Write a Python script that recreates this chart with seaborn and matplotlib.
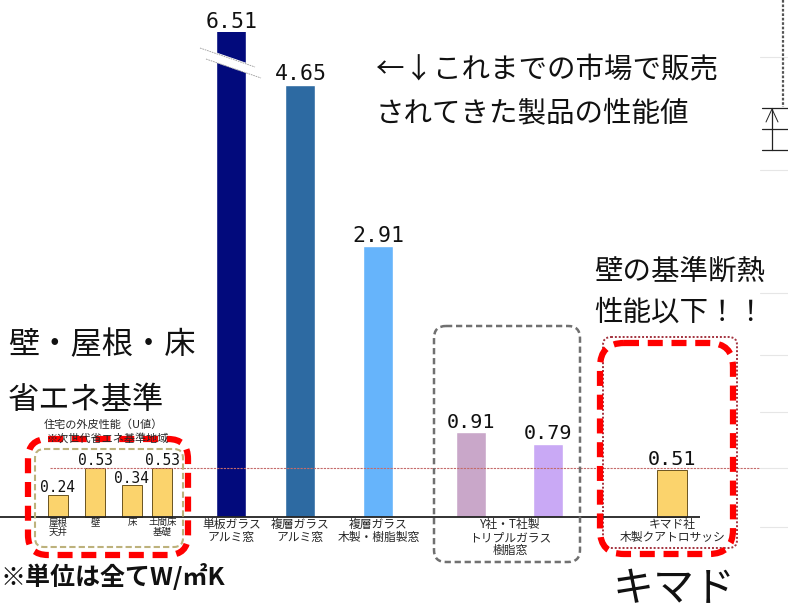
import matplotlib
matplotlib.use("Agg")
import matplotlib.pyplot as plt
import seaborn as sns
from matplotlib.patches import FancyBboxPatch, Rectangle

# data: U-values (W/m2K)
std_labels = ["屋根\n天井", "壁", "床", "土間床\n基礎"]
std_values = [0.24, 0.53, 0.34, 0.53]

win_labels = ["単板ガラス\nアルミ窓", "複層ガラス\nアルミ窓", "複層ガラス\n木製・樹脂製窓",
              "Y社・T社製\nトリプルガラス\n樹脂窓", "Y社・T社製2", "キマド社\n木製クアトロサッシ"]
win_values = [6.51, 4.65, 2.91, 0.91, 0.79, 0.51]
win_colors = ["#020a7c", "#2d6aa2", "#66b4fb", "#c9a7c9", "#c9a9f5", "#fbd36c"]

wall_standard = 0.53

# layout (pixel x positions of bar centres)
std_x = [58, 95.5, 132, 162.5]
win_x = [231.5, 300.5, 378.5, 471, 548.5, 672.5]
cap = 5.215  # broken-bar display limit

sns.set_style("white")
plt.rcParams["font.family"] = ["Noto Sans CJK JP", "DejaVu Sans"]

fig = plt.figure(figsize=(7.88, 6.13), dpi=100)
ax = fig.add_axes([0, 0, 1, 1])
ov = fig.add_axes([0, 0, 1, 1], zorder=3)
ov.patch.set_alpha(0)

# bars
sns.barplot(x=std_x, y=std_values, native_scale=True, width=20 / 30.5,
            color="#fbd36c", saturation=1, edgecolor="#6b5420", linewidth=0.7, ax=ax)
sns.barplot(x=win_x, y=win_values, hue=win_x, native_scale=True, width=30 / 69,
            palette=win_colors, saturation=1, dodge=False, legend=False, ax=ax)
for p in ax.patches:
    p.set_clip_path(Rectangle((0, -2), 788, 2 + cap, transform=ax.transData))
ax.patches[-1].set_edgecolor("#6b5420")
ax.patches[-1].set_linewidth(0.7)

ax.set_xlim(0, 788)
ax.set_ylim(-1.032, 5.559)
ax.axis("off")

ax.hlines(0, 0, 700, color="#222222", lw=1.3, zorder=4)
ax.hlines(wall_standard, 50, 760, color="#c46a6a", lw=0.8, ls=(0, (2, 1)), zorder=1)

mono = "DejaVu Sans Mono"
for x, v in zip(std_x, std_values):
    ax.annotate(f"{v:.2f}", (x, v), xytext=(0, 2), textcoords="offset points",
                ha="center", va="baseline", fontsize=10.5, family=mono, color="#111111")
for i, (x, v) in enumerate(zip(win_x, win_values)):
    ax.annotate(f"{v:.2f}", (x, min(v, cap)), xytext=(0, 3), textcoords="offset points",
                ha="center", va="baseline", fontsize=15.5 if i < 3 else 14.5,
                family=mono, color="#111111")

for x, lab in zip(std_x, std_labels):
    ax.annotate(lab, (x, 0), xytext=(0, -1), textcoords="offset points",
                ha="center", va="top", fontsize=6.8, linespacing=1.0)
for i, (x, lab) in enumerate(zip(win_x, win_labels)):
    if i == 4:
        continue
    xc = (win_x[3] + win_x[4]) / 2 if i == 3 else x
    ax.annotate(lab, (xc, 0), xytext=(0, -1), textcoords="offset points",
                ha="center", va="top", fontsize=8.5, linespacing=1.0)

# overlay in pixel coordinates
ov.set_xlim(0, 788)
ov.set_ylim(613, 0)
ov.axis("off")

# break mark on the first bar
ov.plot([203, 258], [53, 72], color="white", lw=7, solid_capstyle="butt")
ov.plot([200, 255], [48, 67], color="#9a9a9a", lw=0.6, ls=(0, (2, 1)))
ov.plot([206, 261], [59, 78], color="#9a9a9a", lw=0.6, ls=(0, (2, 1)))


def box(x0, y0, x1, y1, r, **kw):
    ov.add_patch(FancyBboxPatch((x0 + r, y0 + r), x1 - x0 - 2 * r, y1 - y0 - 2 * r,
                                boxstyle=f"round,pad={r},rounding_size={r}",
                                fill=False, **kw))


ov.text(103, 425, "住宅の外皮性能（U値）", ha="center", va="center", fontsize=8)
ov.text(108, 438, "※次世代省エネ基準地域", ha="center", va="center", fontsize=8)

box(35, 449, 183, 547, 9, ec="#bdb27c", lw=1.5, ls=(0, (3, 1.5)))
box(28, 439, 188, 555, 20, ec="#ff0000", lw=4.5, ls=(0, (2.4, 1.4)))
box(434, 326, 580, 562, 12, ec="#707070", lw=1.8, ls=(0, (2.5, 1.5)))
box(603, 337, 737, 548, 8, ec="#a3323e", lw=1.4, ls=(0, (1, 1)))
box(600, 343, 733, 554, 24, ec="#ff0000", lw=4.5, ls=(0, (2.4, 1.4)))

big = dict(fontsize=20.5, va="center", ha="left", color="#111111")
ov.text(376, 70, "←↓これまでの市場で販売", **big)
ov.text(376, 113, "されてきた製品の性能値", **big)
ov.text(594, 272, "壁の基準断熱", **big)
ov.text(594, 313, "性能以下！！", **big)
ov.text(8, 345, "壁・屋根・床", fontsize=22.5, va="center", ha="left", color="#111111")
ov.text(8, 400, "省エネ基準", fontsize=22.5, va="center", ha="left", color="#111111")
ov.text(1, 577, "※単位は全てW/㎡K", fontsize=18, fontweight="bold",
        va="center", ha="left", color="#111111")
ov.text(613, 590, "キマド", fontsize=29.5, va="center", ha="left", color="#111111")

# slide remnants at the right edge
for y in [57, 170, 293, 355, 412, 468, 527]:
    ov.plot([760, 788], [y, y], color="#e6e6e6", lw=0.8)
for y in [108, 129, 150]:
    ov.plot([762, 788], [y, y], color="#222222", lw=0.9)
ov.plot([772, 772], [108, 150], color="#222222", lw=0.9)
ov.plot([766, 772, 778], [122, 109, 122], color="#222222", lw=0.7)
ov.plot([783, 783], [0, 107], color="#555555", lw=1.6, ls=(0, (1.2, 0.8)))

fig.savefig("out.png", dpi=100)
